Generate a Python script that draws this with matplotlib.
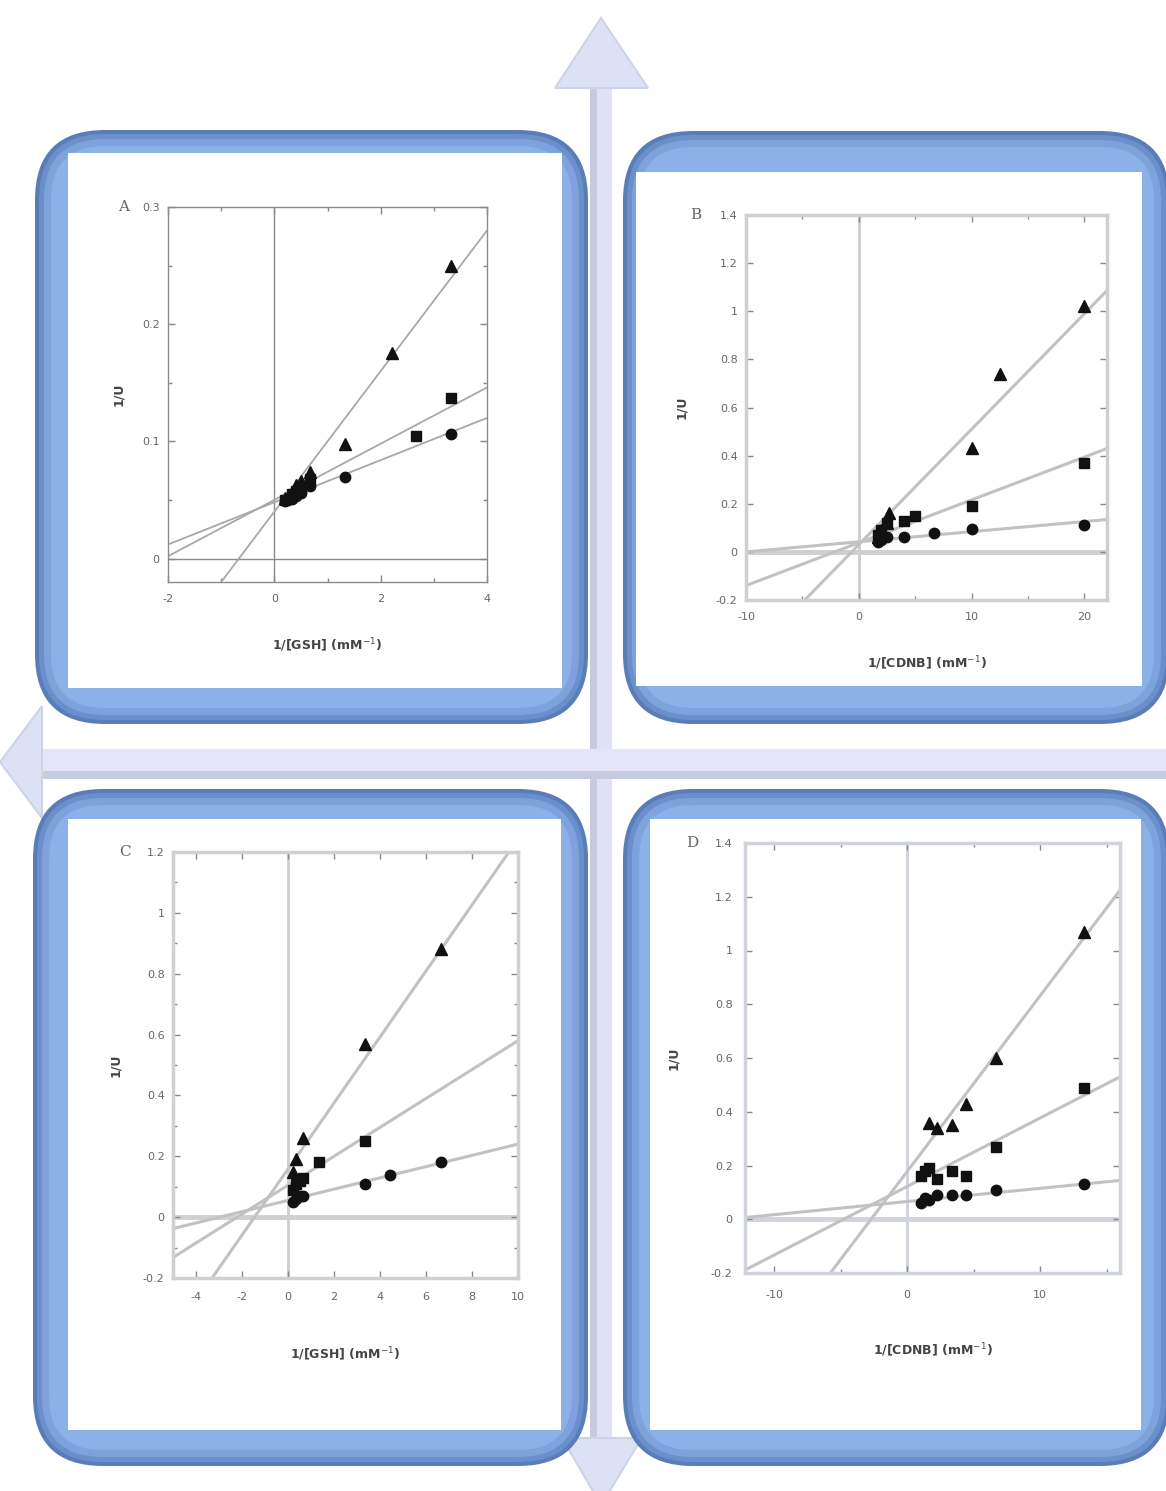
import numpy as np
import matplotlib
matplotlib.use("Agg")
import matplotlib.pyplot as plt
from matplotlib.patches import FancyBboxPatch, Rectangle, Polygon

# ---------------- data ----------------
# Panel A : 1/U vs 1/[GSH]
A_tri_x = [0.2, 0.33, 0.4, 0.5, 0.67, 1.33, 2.22, 3.33]
A_tri_y = [0.052, 0.057, 0.063, 0.066, 0.074, 0.098, 0.175, 0.250]
A_sq_x = [0.2, 0.33, 0.4, 0.5, 0.67, 2.67, 3.33]
A_sq_y = [0.050, 0.055, 0.058, 0.060, 0.068, 0.105, 0.137]
A_ci_x = [0.2, 0.33, 0.4, 0.5, 0.67, 1.33, 3.33]
A_ci_y = [0.049, 0.051, 0.053, 0.056, 0.062, 0.070, 0.106]
A_slopes = [0.060, 0.024, 0.018]
A_inter = [0.040, 0.050, 0.048]

# Panel B : 1/U vs 1/[CDNB]
B_tri_x = [1.67, 2.0, 2.5, 2.7, 10, 12.5, 20]
B_tri_y = [0.06, 0.09, 0.12, 0.16, 0.43, 0.74, 1.02]
B_sq_x = [1.67, 2.0, 2.5, 4.0, 5.0, 10, 20]
B_sq_y = [0.07, 0.09, 0.12, 0.13, 0.15, 0.19, 0.37]
B_ci_x = [1.67, 2.0, 2.5, 4.0, 6.67, 10, 20]
B_ci_y = [0.04, 0.05, 0.06, 0.06, 0.08, 0.095, 0.11]
B_slopes = [0.048, 0.0178, 0.0042]
B_inter = [0.030, 0.038, 0.042]

# Panel C : 1/U vs 1/[GSH]
C_tri_x = [0.2, 0.33, 0.67, 3.33, 6.67]
C_tri_y = [0.15, 0.19, 0.26, 0.57, 0.88]
C_sq_x = [0.2, 0.33, 0.5, 0.67, 1.33, 3.33]
C_sq_y = [0.09, 0.11, 0.12, 0.13, 0.18, 0.25]
C_ci_x = [0.2, 0.33, 0.5, 0.67, 3.33, 4.44, 6.67]
C_ci_y = [0.05, 0.06, 0.07, 0.07, 0.11, 0.14, 0.18]
C_slopes = [0.1085, 0.0475, 0.0185]
C_inter = [0.158, 0.105, 0.055]

# Panel D : 1/U vs 1/[CDNB]
D_tri_x = [1.67, 2.22, 3.33, 4.44, 6.67, 13.33]
D_tri_y = [0.36, 0.34, 0.35, 0.43, 0.60, 1.07]
D_sq_x = [1.0, 1.33, 1.67, 2.22, 3.33, 4.44, 6.67, 13.33]
D_sq_y = [0.16, 0.18, 0.19, 0.15, 0.18, 0.16, 0.27, 0.49]
D_ci_x = [1.0, 1.33, 1.67, 2.22, 3.33, 4.44, 6.67, 13.33]
D_ci_y = [0.06, 0.08, 0.07, 0.09, 0.09, 0.09, 0.11, 0.13]
D_slopes = [0.0654, 0.0255, 0.0049]
D_inter = [0.178, 0.122, 0.066]

W, H = 1166, 1491
fig = plt.figure(figsize=(W / 100, H / 100), dpi=100)
fig.patch.set_facecolor("white")

# ---------------- background decoration ----------------
bg = fig.add_axes([0, 0, 1, 1])
bg.set_xlim(0, W)
bg.set_ylim(H, 0)
bg.axis("off")

arrow_face = "#dfe2f4"
arrow_dark = "#c6cadf"
# vertical shaft
bg.add_patch(Rectangle((590, 80), 22, 1380, fc=arrow_face, ec="none", zorder=1))
bg.add_patch(Rectangle((590, 80), 7, 1380, fc=arrow_dark, ec="none", zorder=1))
# up arrow head
bg.add_patch(Polygon([(555, 88), (648, 88), (601, 18)], closed=True,
                     fc="#dde1f5", ec="#cfd3e6", lw=1.5, zorder=2))
# down arrow head
bg.add_patch(Polygon([(562, 1438), (642, 1438), (601, 1505)], closed=True,
                     fc="#dde1f5", ec="#cfd3e6", lw=1.5, zorder=2))
# horizontal shaft
bg.add_patch(Rectangle((38, 749), W, 30, fc="#e4e6f8", ec="none", zorder=1))
bg.add_patch(Rectangle((38, 771), W, 8, fc=arrow_dark, ec="none", zorder=1))
# left arrow head
bg.add_patch(Polygon([(42, 706), (42, 818), (0, 762)], closed=True,
                     fc="#dde1f5", ec="#cfd3e6", lw=1.5, zorder=2))


def panel_box(x0, y0, x1, y1, ix0, iy0, ix1, iy1):
    w, h = x1 - x0, y1 - y0
    layers = [(0, "#5a7db8"), (4, "#6b8fcb"), (9, "#7ea2dc"), (16, "#8cb1e8")]
    for ins, col in layers:
        bg.add_patch(FancyBboxPatch((x0 + ins, y0 + ins), w - 2 * ins, h - 2 * ins,
                                    boxstyle="round,pad=0,rounding_size=%d" % max(70 - ins, 10),
                                    fc=col, ec="none", zorder=3))
    bg.add_patch(Rectangle((ix0, iy0), ix1 - ix0, iy1 - iy0, fc="white", ec="none", zorder=4))


panel_box(35, 130, 588, 724, 68, 153, 562, 688)
panel_box(623, 131, 1170, 724, 636, 172, 1142, 686)
panel_box(33, 789, 588, 1466, 68, 819, 561, 1430)
panel_box(623, 789, 1170, 1466, 650, 819, 1141, 1430)


# ---------------- charts ----------------
def add_ax(l, t, r, b):
    return fig.add_axes([l / W, 1 - b / H, (r - l) / W, (b - t) / H])


def draw_panel(ax, tri, sq, ci, slopes, inter, xlim, ylim, xmaj, xmin, ymaj, ymin,
               yfmt, xlabel, letter, frame_col, frame_lw, line_col, line_lw,
               zero_lw, xpad, ypad, xlpad, ylpad):
    ax.set_xlim(*xlim)
    ax.set_ylim(*ylim)
    xs = np.array(xlim)
    for s, c in zip(slopes, inter):
        ax.plot(xs, s * xs + c, color=line_col, lw=line_lw, zorder=2, solid_capstyle="butt")
    ax.axhline(0, color=frame_col, lw=zero_lw, zorder=1)
    ax.axvline(0, color=frame_col, lw=max(zero_lw * 0.6, 1.0), zorder=1)
    ax.plot(ci[0], ci[1], "o", color="#111", ms=7.5, zorder=3, ls="none")
    ax.plot(sq[0], sq[1], "s", color="#111", ms=7.5, zorder=3, ls="none")
    ax.plot(tri[0], tri[1], "^", color="#111", ms=8.5, zorder=3, ls="none")
    ax.set_xticks(xmaj)
    ax.set_xticks(xmin, minor=True)
    ax.set_yticks(ymaj)
    ax.set_yticks(ymin, minor=True)
    ax.set_xticklabels([("%g" % v) for v in xmaj])
    ax.set_yticklabels([yfmt(v) for v in ymaj])
    ax.tick_params(which="both", direction="in", top=True, right=True,
                   color="#888", labelcolor="#666", labelsize=8)
    ax.tick_params(which="major", length=5, width=1)
    ax.tick_params(which="minor", length=3, width=1)
    ax.tick_params(axis="x", pad=xpad)
    ax.tick_params(axis="y", pad=ypad)
    for sp in ax.spines.values():
        sp.set_color(frame_col)
        sp.set_linewidth(frame_lw)
    ax.set_xlabel(xlabel, fontsize=9, fontweight="bold", color="#444", labelpad=xlpad)
    ax.set_ylabel("1/U", fontsize=9, fontweight="bold", color="#444", labelpad=ylpad)
    ax.text(-0.14, 1.0, letter, transform=ax.transAxes, family="serif",
            fontsize=11, color="#666", ha="center", va="center")
    ax.set_facecolor("white")


def fmt(v):
    if abs(v) < 1e-9:
        return "0"
    return ("%g" % round(v, 2))


axA = add_ax(168, 207, 487, 582)
draw_panel(axA, (A_tri_x, A_tri_y), (A_sq_x, A_sq_y), (A_ci_x, A_ci_y),
           A_slopes, A_inter, (-2, 4), (-0.02, 0.3),
           [-2, 0, 2, 4], [-1, 1, 3], [0, 0.1, 0.2, 0.3], [0.05, 0.15, 0.25],
           fmt, "1/[GSH] (mM$^{-1}$)", "A", "#8a8a8a", 1.0, "#a8a8a8", 1.3, 1.0, 9, 6,
           23, 12)

axB = add_ax(746, 215, 1107, 600)
draw_panel(axB, (B_tri_x, B_tri_y), (B_sq_x, B_sq_y), (B_ci_x, B_ci_y),
           B_slopes, B_inter, (-10, 22), (-0.2, 1.4),
           [-10, 0, 10, 20], [-5, 5, 15], [-0.2, 0, 0.2, 0.4, 0.6, 0.8, 1, 1.2, 1.4], [],
           fmt, "1/[CDNB] (mM$^{-1}$)", "B", "#cfcfcf", 2.5, "#c2c2c2", 2.2, 3.5, 9, 6,
           23, 20)

axC = add_ax(173, 852, 518, 1278)
draw_panel(axC, (C_tri_x, C_tri_y), (C_sq_x, C_sq_y), (C_ci_x, C_ci_y),
           C_slopes, C_inter, (-5, 10), (-0.2, 1.2),
           [-4, -2, 0, 2, 4, 6, 8, 10], [], [-0.2, 0, 0.2, 0.4, 0.6, 0.8, 1, 1.2],
           [-0.1, 0.1, 0.3, 0.5, 0.7, 0.9, 1.1],
           fmt, "1/[GSH] (mM$^{-1}$)", "C", "#d4cfcf", 2.5, "#c2c2c2", 2.2, 3.5, 10, 6,
           31, 15)

axD = add_ax(745, 843, 1120, 1273)
draw_panel(axD, (D_tri_x, D_tri_y), (D_sq_x, D_sq_y), (D_ci_x, D_ci_y),
           D_slopes, D_inter, (-12.2, 16), (-0.2, 1.4),
           [-10, 0, 10], [-5, 5, 15], [-0.2, 0, 0.2, 0.4, 0.6, 0.8, 1, 1.2, 1.4], [],
           fmt, "1/[CDNB] (mM$^{-1}$)", "D", "#cfd3dc", 2.5, "#c2c2c2", 2.2, 3.5, 12, 9,
           30, 22)

fig.savefig("out.png", dpi=100, facecolor="white")
